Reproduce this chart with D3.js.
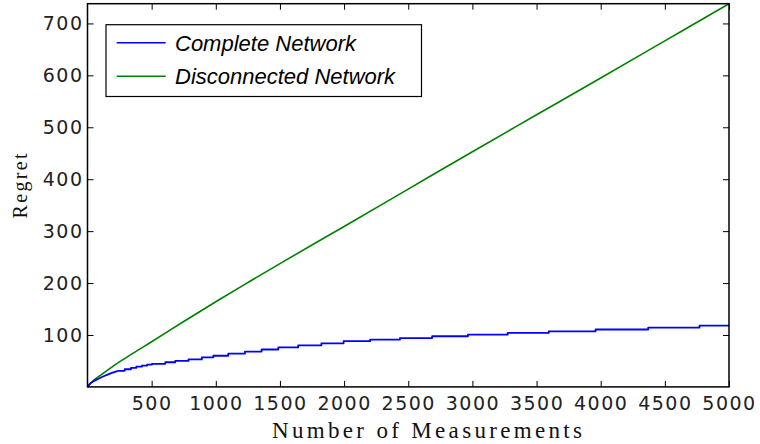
<!DOCTYPE html>
<html>
<head>
<meta charset="utf-8">
<script src="https://cdn.jsdelivr.net/npm/d3@7/dist/d3.min.js"></script>
<style>
  html, body { margin: 0; padding: 0; background: #fff; }
  svg { display: block; }
  .tick text { font-family: "DejaVu Sans", sans-serif; font-size: 19px; fill: #222; letter-spacing: 1.5px; }
  .tick line { stroke: #000; stroke-width: 1; }
</style>
</head>
<body>
<svg id="chart" width="760" height="444"></svg>
<script>
// Regret of the two network settings over the number of measurements
const seriesNames = ["Complete Network", "Disconnected Network"];
const seriesColors = ["#0000ff", "#008000"];

// Complete network: smooth start, then staircase regret (measurement, regret)
const completeEarlyT = [0, 15, 40, 80, 130, 190, 236];
const completeEarlyV = [0, 5, 10, 15, 21, 27, 31];
const completeT = [236, 290, 339, 380, 424, 465, 502, 606, 684, 787, 891, 981, 1097, 1227, 1357, 1487, 1642, 1823, 1996, 2203, 2435, 2686, 2965, 3275, 3595, 3960, 4370, 4770, 5000];
const completeV = [31, 34, 36.5, 39, 41, 43, 44.5, 47.5, 50, 53, 57, 60, 64, 68, 72, 76, 80, 84, 88, 91, 94, 97.5, 100.5, 104, 107, 110.5, 114, 118, 118];

// Disconnected network: near-linear regret
const disconnectedT = [0, 50, 100, 200, 350, 500, 750, 1000, 1250, 1500, 2000, 2500, 3000, 3500, 4000, 4500, 5000];
const disconnectedV = [0, 13, 22, 40, 64, 87, 126, 164, 201, 237.5, 309, 381, 453, 524, 595, 666.5, 738];

const xTicks = [500, 1000, 1500, 2000, 2500, 3000, 3500, 4000, 4500, 5000];
const yTicks = [100, 200, 300, 400, 500, 600, 700];
const xLabel = "Number of Measurements";
const yLabel = "Regret";

const svg = d3.select("#chart");
const plotLeft = 87.5, plotRight = 729, plotTop = 3.7, plotBottom = 386.9;

const x = d3.scaleLinear().domain([0, 5000]).range([plotLeft, plotRight]);
const y = d3.scaleLinear().domain([0, 738]).range([plotBottom, plotTop]);

// axes with inward ticks on all four sides
const gx = svg.append("g").attr("transform", `translate(0,${plotBottom})`)
  .call(d3.axisBottom(x).tickValues(xTicks).tickFormat(d3.format("d")).tickSizeInner(-6).tickSizeOuter(0).tickPadding(10));
const gy = svg.append("g").attr("transform", `translate(${plotLeft},0)`)
  .call(d3.axisLeft(y).tickValues(yTicks).tickFormat(d3.format("d")).tickSizeInner(-6).tickSizeOuter(0).tickPadding(4));
const gt = svg.append("g").attr("transform", `translate(0,${plotTop})`)
  .call(d3.axisTop(x).tickValues(xTicks).tickFormat("").tickSizeInner(-6).tickSizeOuter(0));
const gr = svg.append("g").attr("transform", `translate(${plotRight},0)`)
  .call(d3.axisRight(y).tickValues(yTicks).tickFormat("").tickSizeInner(-6).tickSizeOuter(0));
[gx, gy, gt, gr].forEach(g => g.select(".domain").remove());

// data lines
const pairs = (ts, vs) => ts.map((t, i) => [t, vs[i]]);
const smoothLine = d3.line().x(d => x(d[0])).y(d => y(d[1])).curve(d3.curveMonotoneX);
const stepLine = d3.line().x(d => x(d[0])).y(d => y(d[1])).curve(d3.curveStepAfter);

svg.append("path").datum(pairs(disconnectedT, disconnectedV))
  .attr("fill", "none").attr("stroke", seriesColors[1]).attr("stroke-width", 1.6)
  .attr("d", smoothLine);
const blue = svg.append("g").attr("fill", "none").attr("stroke", seriesColors[0])
  .attr("stroke-width", 1.8).attr("stroke-linejoin", "round");
blue.append("path").datum(pairs(completeEarlyT, completeEarlyV)).attr("d", smoothLine);
blue.append("path").datum(pairs(completeT, completeV)).attr("d", stepLine);

// frame
svg.append("rect")
  .attr("x", plotLeft).attr("y", plotTop).attr("width", plotRight - plotLeft).attr("height", plotBottom - plotTop)
  .attr("fill", "none").attr("stroke", "#000").attr("stroke-width", 1.5);

// axis titles
svg.append("text")
  .attr("x", (272 + 582) / 2).attr("y", 438)
  .attr("text-anchor", "middle")
  .attr("textLength", 310).attr("lengthAdjust", "spacing")
  .style("font-family", "'Liberation Serif', serif").style("font-size", "23px").style("fill", "#111")
  .text(xLabel);
svg.append("text")
  .attr("transform", "translate(27,186) rotate(-90)")
  .attr("text-anchor", "middle")
  .attr("textLength", 65).attr("lengthAdjust", "spacing")
  .style("font-family", "'Liberation Serif', serif").style("font-size", "20px").style("fill", "#111")
  .text(yLabel);

// legend
const legend = svg.append("g");
legend.append("rect")
  .attr("x", 106).attr("y", 24.7).attr("width", 315.5).attr("height", 71.8)
  .attr("fill", "#fff").attr("stroke", "#000").attr("stroke-width", 1.2);
const rowY = [42.7, 76.3];
seriesNames.forEach((name, i) => {
  legend.append("line")
    .attr("x1", 116.7).attr("x2", 165.7).attr("y1", rowY[i]).attr("y2", rowY[i])
    .attr("stroke", seriesColors[i]).attr("stroke-width", 1.4);
  legend.append("text")
    .attr("x", 175).attr("y", rowY[i] + 7.9)
    .style("font-family", "'Liberation Sans', Arial, sans-serif").style("font-style", "italic")
    .style("font-size", "22px").style("fill", "#000")
    .text(name);
});
</script>
</body>
</html>
